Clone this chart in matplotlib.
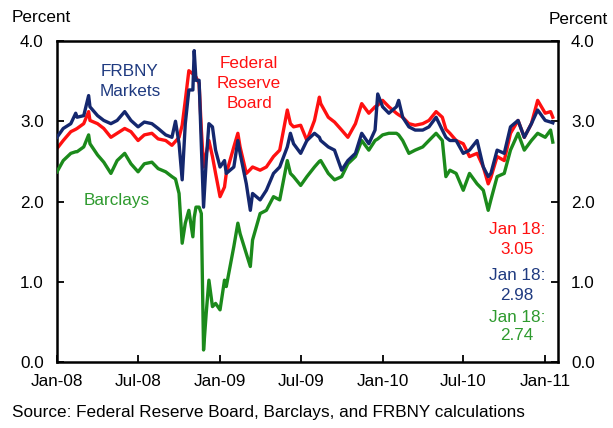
import matplotlib
matplotlib.use("Agg")
import matplotlib.pyplot as plt
import pandas as pd

plt.rcParams['font.family'] = ['Liberation Sans', 'DejaVu Sans']

dates = [
    "2008-01-01", "2008-01-15", "2008-02-01", "2008-02-12", "2008-02-15", "2008-03-01",
    "2008-03-12", "2008-03-15", "2008-04-01", "2008-04-15", "2008-05-01", "2008-05-15",
    "2008-06-01", "2008-06-15", "2008-07-01", "2008-07-15", "2008-08-01", "2008-08-15",
    "2008-09-01", "2008-09-15", "2008-09-23", "2008-10-01", "2008-10-08", "2008-10-15",
    "2008-10-23", "2008-11-01", "2008-11-04", "2008-11-08", "2008-11-15", "2008-11-20",
    "2008-11-25", "2008-12-01", "2008-12-07", "2008-12-15", "2008-12-22", "2009-01-01",
    "2009-01-11", "2009-01-15", "2009-02-01", "2009-02-10", "2009-02-15", "2009-03-01",
    "2009-03-10", "2009-03-15", "2009-04-01", "2009-04-15", "2009-05-01", "2009-05-15",
    "2009-06-01", "2009-06-08", "2009-06-15", "2009-07-01", "2009-07-15", "2009-08-01",
    "2009-08-12", "2009-08-15", "2009-09-01", "2009-09-15", "2009-10-01", "2009-10-15",
    "2009-11-01", "2009-11-15", "2009-12-01", "2009-12-15", "2009-12-21", "2010-01-01",
    "2010-01-15", "2010-02-01", "2010-02-06", "2010-02-15", "2010-03-01", "2010-03-15",
    "2010-04-01", "2010-04-15", "2010-05-01", "2010-05-15", "2010-05-23", "2010-06-01",
    "2010-06-15", "2010-07-01", "2010-07-15", "2010-08-01", "2010-08-15", "2010-08-26",
    "2010-09-01", "2010-09-15", "2010-10-01", "2010-10-15", "2010-11-01", "2010-11-15",
    "2010-12-01", "2010-12-15", "2011-01-01", "2011-01-13", "2011-01-18",
]

frbny = [
    2.80, 2.91, 2.97, 3.10, 3.05, 3.07,
    3.32, 3.18, 3.07, 3.01, 2.97, 3.01,
    3.12, 3.01, 2.93, 2.99, 2.97, 2.91,
    2.83, 2.80, 3.00, 2.72, 2.27, 2.97,
    3.39, 3.39, 3.88, 3.51, 3.51, 2.70,
    1.93, 2.51, 2.97, 2.93, 2.64, 2.43,
    2.51, 2.35, 2.43, 2.76, 2.60, 2.22,
    1.89, 2.10, 2.02, 2.14, 2.35, 2.43,
    2.68, 2.85, 2.72, 2.60, 2.76, 2.85,
    2.80, 2.76, 2.68, 2.64, 2.39, 2.51,
    2.60, 2.85, 2.72, 2.89, 3.34, 3.18,
    3.10, 3.18, 3.26, 3.05, 2.93, 2.89,
    2.89, 2.93, 3.05, 2.89, 2.80, 2.76,
    2.76, 2.60, 2.64, 2.76, 2.43, 2.31,
    2.35, 2.64, 2.60, 2.93, 3.01, 2.80,
    2.97, 3.14, 3.01, 2.99, 2.98,
]

fed_board = [
    2.66, 2.76, 2.87, 2.90, 2.91, 2.97,
    3.12, 3.01, 2.97, 2.91, 2.80, 2.85,
    2.91, 2.87, 2.76, 2.83, 2.85, 2.78,
    2.76, 2.70, 2.75, 2.80, 2.95, 3.26,
    3.63, 3.59, 3.57, 3.55, 3.47, 2.90,
    2.43, 2.60, 2.76, 2.56, 2.35, 2.06,
    2.18, 2.35, 2.68, 2.85, 2.68, 2.35,
    2.40, 2.43, 2.39, 2.43, 2.56, 2.64,
    3.14, 2.97, 2.93, 2.95, 2.76, 3.01,
    3.30, 3.22, 3.05, 2.99, 2.89, 2.80,
    2.97, 3.22, 3.10, 3.18, 3.20, 3.26,
    3.18, 3.10, 3.08, 3.05, 2.97, 2.95,
    2.97, 3.01, 3.12, 3.05, 2.90, 2.85,
    2.76, 2.72, 2.56, 2.60, 2.43, 2.22,
    2.30, 2.56, 2.51, 2.85, 3.01, 2.80,
    2.97, 3.26, 3.10, 3.12, 3.05,
]

barclays = [
    2.37, 2.51, 2.60, 2.62, 2.62, 2.68,
    2.83, 2.72, 2.58, 2.49, 2.35, 2.51,
    2.60, 2.47, 2.37, 2.47, 2.49, 2.41,
    2.37, 2.31, 2.28, 2.10, 1.48, 1.73,
    1.89, 1.56, 1.80, 1.93, 1.93, 1.85,
    0.15, 0.61, 1.02, 0.69, 0.73, 0.65,
    1.02, 0.94, 1.44, 1.73, 1.60, 1.35,
    1.19, 1.52, 1.85, 1.89, 2.06, 2.02,
    2.51, 2.35, 2.31, 2.20, 2.31, 2.43,
    2.50, 2.51, 2.35, 2.27, 2.31, 2.47,
    2.56, 2.76, 2.64, 2.76, 2.78, 2.83,
    2.85, 2.85, 2.83, 2.76, 2.60, 2.64,
    2.68, 2.76, 2.85, 2.76, 2.31, 2.39,
    2.35, 2.14, 2.35, 2.22, 2.14, 1.89,
    2.02, 2.31, 2.35, 2.64, 2.85, 2.64,
    2.76, 2.85, 2.80, 2.89, 2.74,
]

tick_dates = ["2008-01-01", "2008-07-01", "2009-01-01", "2009-07-01",
              "2010-01-01", "2010-07-01", "2011-01-01"]
y_ticks = [0.0, 1.0, 2.0, 3.0, 4.0]

W, H = 613, 428
fig = plt.figure(figsize=(W / 100, H / 100), dpi=100)
L, R, T, B = 57, 557.7, 41, 362
ax = fig.add_axes([L / W, 1 - B / H, (R - L) / W, (B - T) / H])

d = pd.to_datetime(dates)
RED = "#FF1010"
BLUE = "#14276E"
GREEN = "#1B8A1B"
lw = 2.4
ax.plot(d, fed_board, color=RED, lw=lw, solid_joinstyle="round", zorder=2)
ax.plot(d, barclays, color=GREEN, lw=lw, solid_joinstyle="round", zorder=3)
ax.plot(d, frbny, color=BLUE, lw=lw, solid_joinstyle="round", zorder=4)

ax.set_xlim(pd.Timestamp("2008-01-01"), pd.Timestamp("2011-01-29"))
ax.set_ylim(0, 4)
td = pd.to_datetime(tick_dates)
ax.set_xticks(td)
ax.set_xticklabels([t.strftime("%b-%y") for t in td])
ax.set_yticks(y_ticks)
ax.set_yticklabels([f"{v:.1f}" for v in y_ticks])

fs = 12.3
ax.tick_params(axis="x", direction="in", length=5, width=1.3, labelsize=fs, pad=9, colors="black")
ax.tick_params(axis="y", direction="in", length=5, width=1.3, labelsize=fs, pad=9.5,
               right=True, labelright=True)
for s in ax.spines.values():
    s.set_linewidth(1.8)
    s.set_color("black")

def ft(x, y, s, **kw):
    fig.text(x / W, 1 - y / H, s, fontsize=fs, **kw)

ft(41, 17, "Percent", ha="center", va="center")
ft(578, 19, "Percent", ha="center", va="center")

ft(130, 72, "FRBNY", ha="center", va="center", color="#1F3A80")
ft(130, 92, "Markets", ha="center", va="center", color="#1F3A80")
ft(249, 64, "Federal", ha="center", va="center", color=RED)
ft(249, 84, "Reserve", ha="center", va="center", color=RED)
ft(249, 104, "Board", ha="center", va="center", color=RED)
ft(117, 200, "Barclays", ha="center", va="center", color="#2E9A2E")

ft(517, 230, "Jan 18:", ha="center", va="center", color=RED)
ft(517, 250, "3.05", ha="center", va="center", color=RED)
ft(517, 276, "Jan 18:", ha="center", va="center", color="#1F3A80")
ft(517, 296, "2.98", ha="center", va="center", color="#1F3A80")
ft(517, 317, "Jan 18:", ha="center", va="center", color="#2E9A2E")
ft(517, 336, "2.74", ha="center", va="center", color="#2E9A2E")

ft(12, 412, "Source: Federal Reserve Board, Barclays, and FRBNY calculations",
   ha="left", va="center")

fig.savefig("out.png", dpi=100)
